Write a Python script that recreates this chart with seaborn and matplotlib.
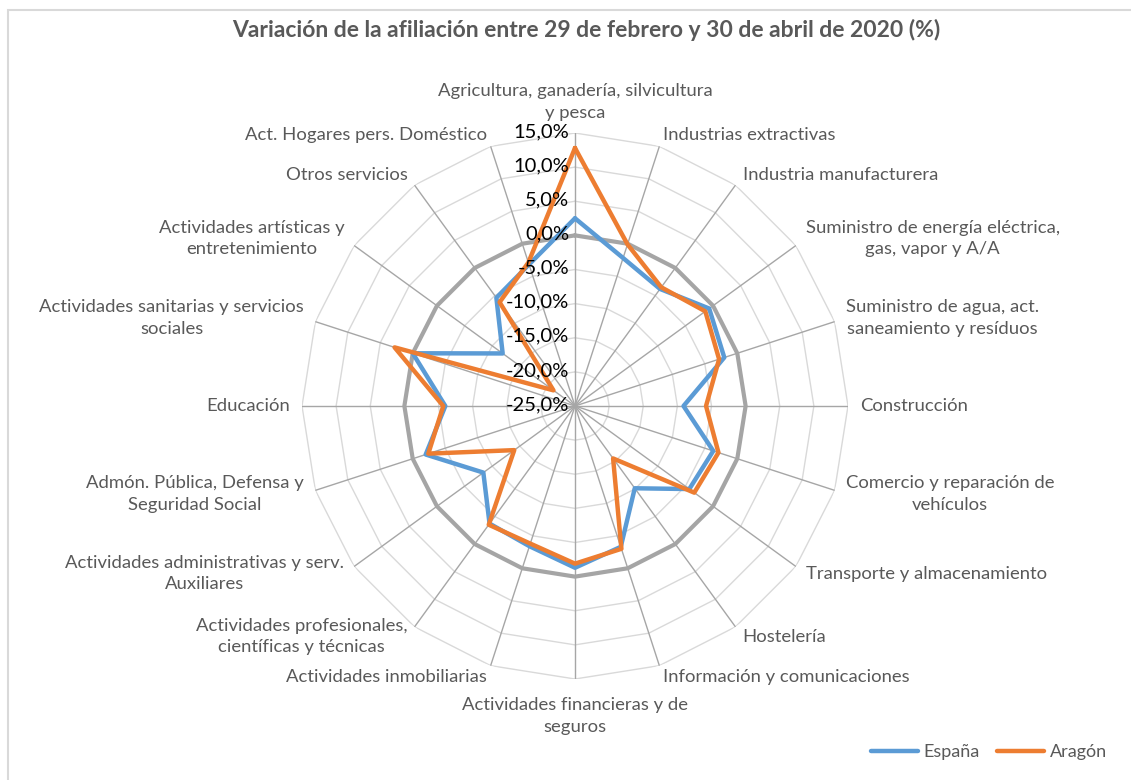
import numpy as np
import pandas as pd
import matplotlib.pyplot as plt
import seaborn as sns
from matplotlib.patches import Rectangle

# datos (variacion %)
categorias = [
    "Agricultura, ganadería, silvicultura\ny pesca",
    "Industrias extractivas",
    "Industria manufacturera",
    "Suministro de energía eléctrica,\ngas, vapor y A/A",
    "Suministro de agua, act.\nsaneamiento y resíduos",
    "Construcción",
    "Comercio y reparación de\nvehículos",
    "Transporte y almacenamiento",
    "Hostelería",
    "Información y comunicaciones",
    "Actividades financieras y de\nseguros",
    "Actividades inmobiliarias",
    "Actividades profesionales,\ncientíficas y técnicas",
    "Actividades administrativas y serv.\nAuxiliares",
    "Admón. Pública, Defensa y\nSeguridad Social",
    "Educación",
    "Actividades sanitarias y servicios\nsociales",
    "Actividades artísticas y\nentretenimiento",
    "Otros servicios",
    "Act. Hogares pers. Doméstico",
]
espana = [2.5, -2.2, -3.8, -0.7, -2.0, -9.1, -3.7, -4.3, -10.1, -3.3,
          -1.3, -3.4, -3.7, -8.4, -2.0, -6.0, 0.0, -11.9, -5.4, -3.2]
aragon = [12.8, -0.1, -3.5, -1.4, -2.8, -5.8, -2.9, -3.4, -15.5, -3.0,
          -1.9, -3.8, -3.5, -14.0, -2.4, -5.7, 2.8, -21.1, -6.2, -2.9]
ticks = [-25, -20, -15, -10, -5, 0, 5, 10, 15]
tick_labels = ["-25,0%", "-20,0%", "-15,0%", "-10,0%", "-5,0%", "0,0%", "5,0%", "10,0%", "15,0%"]

sns.set_theme(style="white")
plt.rcParams["font.family"] = ["Lato", "DejaVu Sans"]

n = len(categorias)
theta = np.linspace(0, 2 * np.pi, n, endpoint=False)
theta_c = np.append(theta, 2 * np.pi)

df = pd.concat([
    pd.DataFrame({"theta": theta_c, "valor": espana + espana[:1], "serie": "España"}),
    pd.DataFrame({"theta": theta_c, "valor": aragon + aragon[:1], "serie": "Aragón"}),
])

W, H = 1131, 780
fig = plt.figure(figsize=(W / 100, H / 100), dpi=100)
fig.patches.append(Rectangle((8 / W, -0.1), 1.2, 1 - 10 / H + 0.1, transform=fig.transFigure,
                             fill=False, edgecolor="#d9d9d9", linewidth=1.5))

cx, cy, R = 575, 406, 273
ax = fig.add_axes([(cx - R) / W, (H - cy - R) / H, 2 * R / W, 2 * R / H], projection="polar")
ax.set_theta_zero_location("N")
ax.set_theta_direction(-1)
ax.set_ylim(-25, 15)
ax.grid(False)
ax.spines["polar"].set_visible(False)
ax.set_xticks([])
ax.set_yticks([])
ax.patch.set_alpha(0)

# rejilla poligonal
for t in ticks[1:]:
    ax.plot(theta_c, [t] * (n + 1), color="#d9d9d9", linewidth=1, zorder=1)
for th in theta:
    ax.plot([th, th], [-25, 15], color="#a6a6a6", linewidth=1, zorder=1)
ax.plot(theta_c, [0] * (n + 1), color="#a5a5a5", linewidth=3, zorder=2)

sns.lineplot(data=df, x="theta", y="valor", hue="serie", sort=False,
             palette={"España": "#5b9bd5", "Aragón": "#ed7d31"},
             linewidth=3.2, ax=ax, zorder=3)
ax.set_xlabel("")
ax.set_ylabel("")

handles, labels = ax.get_legend_handles_labels()
ax.get_legend().remove()
for h in handles:
    h.set_linewidth(3.2)
    h.set_solid_capstyle("round")
fig.legend(handles, labels, loc="center right", bbox_to_anchor=(1123 / W, 1 - 752 / H),
           ncol=2, frameon=False, fontsize=13, handlelength=2.6, handletextpad=0.3,
           columnspacing=1.0, labelcolor="#595959")

# etiquetas del eje radial
for t, lab in zip(ticks, tick_labels):
    ax.annotate(lab, xy=(0, t), xytext=(-4, 1), textcoords="offset points",
                ha="right", va="center", fontsize=14.5, color="black", zorder=4)

# etiquetas de categorias
for th, lab in zip(theta, categorias):
    s = np.sin(th)
    c = np.cos(th)
    off = 12
    if abs(s) < 0.1:
        ha = "center"
        va = "bottom" if c > 0 else "top"
        if c < 0:
            off = 18
    else:
        ha = "left" if s > 0 else "right"
        va = "center"
    ax.text(th, -25 + 40 * (R + off) / R, lab, ha=ha, va=va, multialignment="center",
            fontsize=13.3, color="#595959", linespacing=1.45, clip_on=False)

fig.text(586 / W, 1 - 30 / H, "Variación de la afiliación entre 29 de febrero y 30 de abril de 2020 (%)",
         ha="center", va="center", fontsize=16.5, fontweight="bold", color="#595959")

fig.savefig("out.png", dpi=100)
